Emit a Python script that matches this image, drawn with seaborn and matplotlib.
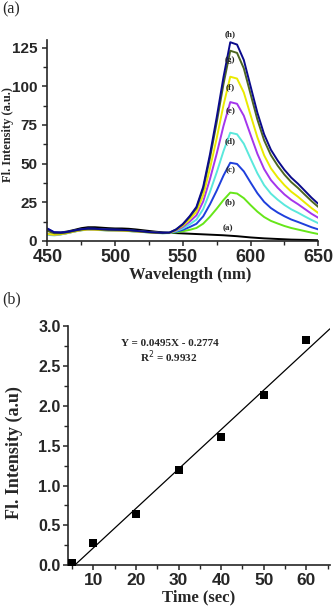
import matplotlib
matplotlib.use("Agg")
import matplotlib.pyplot as plt
import numpy as np
import pandas as pd
import seaborn as sns
from matplotlib.ticker import MultipleLocator

# ---------------- data: panel (a) ----------------
wavelength = list(range(450, 651, 5))
spec_a = [7.5, 5.5, 5.5, 6.2, 7.2, 8.3, 8.9, 8.9, 8.6, 8.3, 8.1, 8.1, 7.9, 7.5, 7.0, 6.5, 6.0, 5.6, 5.3,
          5.1, 4.9, 4.7, 4.5, 4.3, 4.1, 3.9, 3.7, 3.4, 3.1, 2.7, 2.3, 2.0, 1.7, 1.5, 1.3, 1.1, 0.9, 0.8, 0.7, 0.6, 0.5]
spec_b = [4.5, 4.0, 4.4, 5.2, 6.2, 7.0, 7.4, 7.3, 7.1, 6.9, 6.8, 6.7, 6.5, 6.2, 5.9, 5.6, 5.3, 5.1, 5.2,
          5.6, 6.3, 7.2, 8.4, 11.2, 15.7, 20.9, 26.5, 31.3, 30.7, 27.7, 23.2, 19.0, 15.5, 13.0, 11.3, 9.7, 8.4, 7.4, 6.4, 5.4, 4.5]
spec_c = [8.0, 5.6, 5.4, 5.9, 6.8, 7.6, 8.0, 7.9, 7.6, 7.4, 7.3, 7.2, 7.0, 6.6, 6.2, 5.8, 5.5, 5.3, 5.4,
          6.0, 7.2, 9.0, 11.1, 15.9, 23.7, 32.6, 42.3, 50.6, 49.8, 45.0, 37.8, 30.9, 25.3, 21.3, 18.4, 16.0, 13.9, 12.3, 10.6, 8.9, 7.5]
spec_d = [4.0, 3.6, 4.2, 5.1, 6.1, 6.9, 7.3, 7.2, 7.0, 6.8, 6.7, 6.6, 6.4, 6.1, 5.8, 5.5, 5.2, 5.0, 5.1,
          6.4, 8.1, 10.7, 13.8, 20.6, 31.7, 44.4, 58.1, 70.0, 69.0, 62.9, 53.2, 43.8, 36.1, 30.6, 26.7, 23.3, 20.5, 18.3, 15.9, 13.6, 11.5]
spec_e = [4.5, 4.0, 4.4, 5.2, 6.2, 7.0, 7.4, 7.3, 7.1, 6.9, 6.8, 6.7, 6.5, 6.2, 5.9, 5.6, 5.3, 5.1, 5.2,
          6.8, 9.1, 12.5, 16.6, 25.5, 40.0, 56.5, 74.4, 89.8, 88.7, 81.0, 68.6, 56.4, 46.5, 39.4, 34.4, 30.1, 26.6, 23.8, 20.7, 17.6, 15.0]
spec_f = [4.5, 4.0, 4.4, 5.2, 6.2, 7.0, 7.4, 7.3, 7.1, 6.9, 6.8, 6.7, 6.5, 6.2, 5.9, 5.6, 5.3, 5.1, 5.2,
          7.1, 9.9, 14.0, 18.9, 29.5, 46.8, 66.5, 87.8, 106.2, 105.0, 96.0, 81.4, 67.1, 55.4, 47.0, 41.1, 36.1, 31.9, 28.6, 24.9, 21.3, 18.1]
spec_g = [6.5, 5.0, 5.0, 5.6, 6.6, 7.4, 7.8, 7.7, 7.4, 7.2, 7.1, 7.0, 6.8, 6.5, 6.1, 5.7, 5.4, 5.2, 5.3,
          7.4, 10.7, 15.5, 21.2, 33.7, 53.7, 76.7, 101.5, 123.0, 121.6, 111.6, 95.0, 78.6, 65.1, 55.5, 48.7, 42.9, 38.1, 34.3, 30.0, 25.8, 22.0]
spec_h = [8.0, 5.6, 5.4, 5.9, 6.8, 7.6, 8.0, 7.9, 7.6, 7.4, 7.3, 7.2, 7.0, 6.6, 6.2, 5.8, 5.5, 5.3, 5.4,
          7.5, 11.0, 16.0, 22.0, 35.0, 56.0, 80.0, 106.0, 128.5, 127.0, 117.0, 100.0, 83.0, 69.0, 59.0, 52.0, 46.0, 41.0, 37.0, 32.5, 28.0, 24.0]
series_names = ["(a)", "(b)", "(c)", "(d)", "(e)", "(f)", "(g)", "(h)"]
series_values = [spec_a, spec_b, spec_c, spec_d, spec_e, spec_f, spec_g, spec_h]
series_colors = ["#000000", "#66e619", "#1f3fdc", "#5ae8dc", "#a436ec", "#eaea00", "#4d6620", "#0a0a8c"]

# ---------------- data: panel (b) ----------------
time_sec = [5, 10, 20, 30, 40, 50, 60]
fl_intensity = [0.03, 0.28, 0.64, 1.19, 1.61, 2.14, 2.82]
fit_slope = 0.0495
fit_intercept = -0.2774
fit_r2 = 0.9932

# ---------------- style ----------------
sns.set_style("ticks")
plt.rcParams["font.family"] = ["Liberation Sans", "DejaVu Sans"]
plt.rcParams["axes.linewidth"] = 1.2
plt.rcParams["xtick.direction"] = "out"
plt.rcParams["ytick.direction"] = "out"
SERIF = ["Liberation Serif", "DejaVu Serif"]

fig = plt.figure(figsize=(3.34, 6.14), dpi=100)

# ---------------- panel (a) ----------------
ax1 = fig.add_axes([0.142, 0.6075, 0.811, 0.3275])
rows = []
for name, vals in zip(series_names, series_values):
    for wl, v in zip(wavelength, vals):
        rows.append({"wl": wl, "val": v, "series": name})
df = pd.DataFrame(rows)
sns.lineplot(data=df, x="wl", y="val", hue="series", hue_order=series_names,
             palette=series_colors, linewidth=1.4, legend=False, ax=ax1)
ax1.set_xlim(450, 650)
ax1.set_ylim(0, 130)
ax1.xaxis.set_major_locator(MultipleLocator(50))
ax1.xaxis.set_minor_locator(MultipleLocator(25))
ax1.yaxis.set_major_locator(MultipleLocator(25))
ax1.yaxis.set_minor_locator(MultipleLocator(12.5))
sns.despine(ax=ax1)
ax1.tick_params(axis="both", which="major", length=3.5, width=1.1)
ax1.tick_params(axis="both", which="minor", length=3.0, width=1.0)
for lab in ax1.get_xticklabels():
    lab.set_fontsize(13)
    lab.set_fontweight("bold")
for lab in ax1.get_yticklabels():
    lab.set_fontsize(11)
    lab.set_fontweight("bold")
ax1.tick_params(axis="x", pad=2)
ax1.tick_params(axis="y", pad=4)
ax1.set_xlabel("Wavelength (nm)", fontsize=12, fontweight="bold", family=SERIF)
ax1.xaxis.set_label_coords(0.526, -0.13)
ax1.set_ylabel("Fl. Intensity (a.u.)", fontsize=9, fontweight="bold", family=SERIF)
ax1.yaxis.set_label_coords(-0.122, 0.527)

label_pos = [(583, 8.2), (585, 25.3), (585, 45.8), (585, 64.5), (585, 84.0), (585, 99.4), (585, 117.0), (585, 134.0)]
for name, (lx, ly) in zip(series_names, label_pos):
    ax1.text(lx, ly, name, fontsize=6.5, fontweight="bold", family=SERIF,
             ha="center", va="center", clip_on=False)

fig.text(0.008, 0.984, "(a)", fontsize=11.5, family=SERIF, ha="left", va="center")

# ---------------- panel (b) ----------------
ax2 = fig.add_axes([0.2027, 0.0793, 0.785, 0.3897])
sns.scatterplot(x=time_sec, y=fl_intensity, marker="s", s=30, color="black",
                edgecolor="black", linewidth=0, ax=ax2, zorder=3)
ax2.axline((0, fit_intercept), slope=fit_slope, color="black", linewidth=0.9)
ax2.set_xlim(4, 65.5)
ax2.set_ylim(0, 3.0)
ax2.xaxis.set_major_locator(MultipleLocator(10))
ax2.xaxis.set_minor_locator(MultipleLocator(5))
ax2.yaxis.set_major_locator(MultipleLocator(0.5))
ax2.yaxis.set_minor_locator(MultipleLocator(0.25))
ax2.yaxis.set_major_formatter(matplotlib.ticker.FormatStrFormatter("%.1f"))
sns.despine(ax=ax2)
ax2.tick_params(axis="both", which="major", length=3.5, width=1.1)
ax2.tick_params(axis="both", which="minor", length=3.0, width=1.0)
for lab in ax2.get_xticklabels():
    lab.set_fontsize(12.5)
    lab.set_fontweight("bold")
for lab in ax2.get_yticklabels():
    lab.set_fontsize(11.5)
    lab.set_fontweight("bold")
ax2.tick_params(axis="x", pad=2)
ax2.tick_params(axis="y", pad=1.5)
ax2.set_xlabel("Time (sec)", fontsize=12, fontweight="bold", family=SERIF, labelpad=1)
ax2.set_ylabel("Fl. Intensity (a.u)", fontsize=13, fontweight="bold", family=SERIF)
ax2.yaxis.set_label_coords(-0.17, 0.47)

ax2.text(0.39, 0.925, f"Y = {fit_slope}X - {abs(fit_intercept)}", transform=ax2.transAxes,
         fontsize=8, fontweight="bold", family=SERIF, ha="center", va="center")
ax2.text(0.385, 0.87, f"R$^2$ = {fit_r2}", transform=ax2.transAxes,
         fontsize=8, fontweight="bold", family=SERIF, ha="center", va="center")

fig.text(0.008, 0.512, "(b)", fontsize=11.5, family=SERIF, ha="left", va="center")

fig.savefig("out.png", dpi=100)
